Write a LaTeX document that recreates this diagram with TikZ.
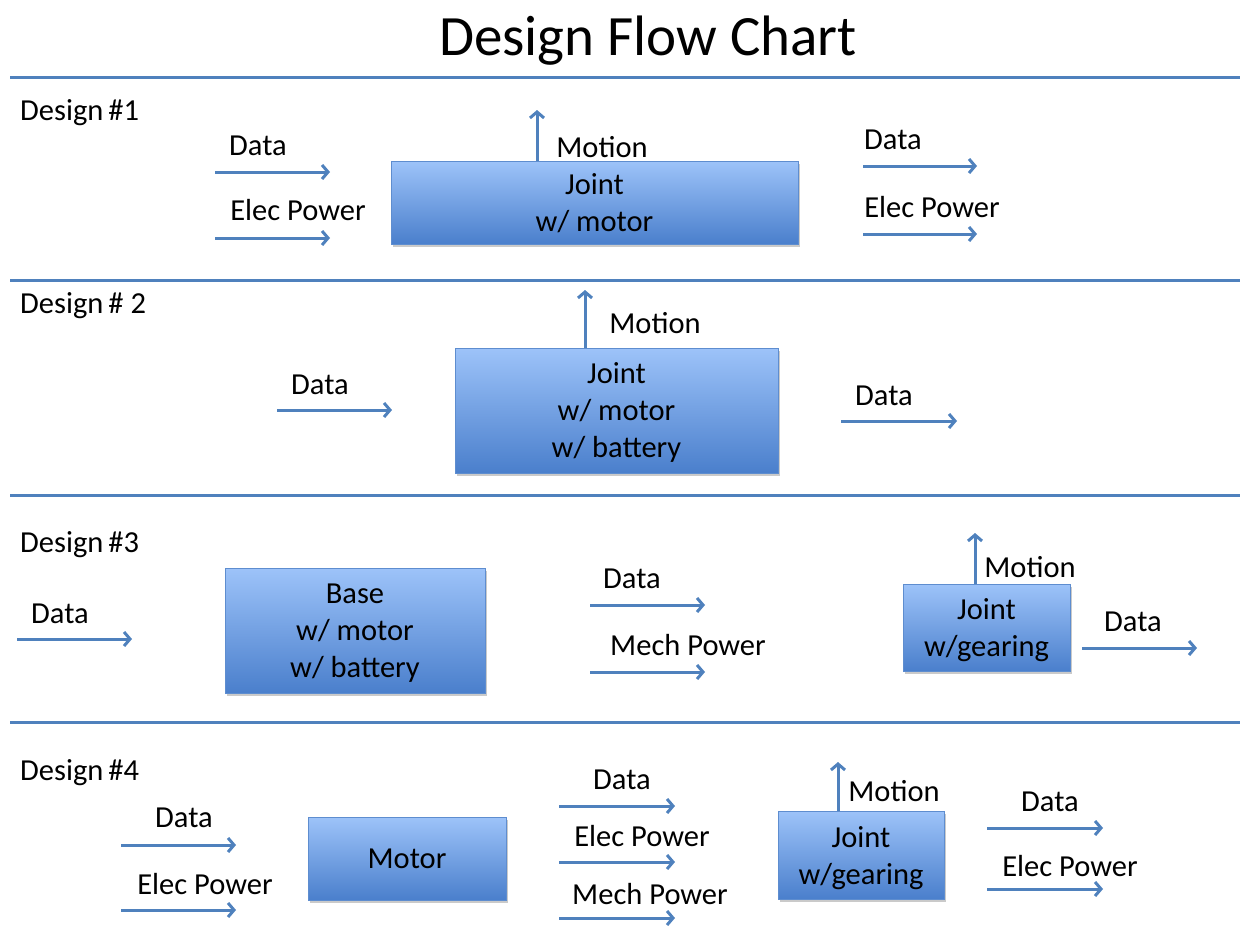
\documentclass[tikz,border=0pt]{standalone}
\usepackage{fontspec}
\setmainfont{Carlito}
\usetikzlibrary{arrows.meta,shadows}
\definecolor{lineblue}{HTML}{4F81BD}
\definecolor{boxtop}{HTML}{9DC3F9}
\definecolor{boxbottom}{HTML}{4A7FCC}
\definecolor{boxedge}{HTML}{5E8DCF}

\newcommand{\hflow}[6]{% name, x start, x end, y, label, label position
  \coordinate (#1-s) at (#2,#4);
  \coordinate (#1-e) at (#3,#4);
  \draw[flow] (#1-s) -- (#1-e);
  \node[lbl] (#1-l) at #6 {#5};
}

\begin{document}
\begin{tikzpicture}[x=1pt,y=-1pt,
  flow/.style={draw=lineblue,line width=3pt,-{Straight Barb[length=6pt,width=14pt]}},
  sep/.style={draw=lineblue,line width=3pt},
  lbl/.style={anchor=base,inner sep=0pt,font=\fontsize{30.5}{34}\selectfont},
  hdr/.style={anchor=base west,inner sep=0pt,font=\fontsize{30.5}{34}\selectfont},
  block/.style={draw=boxedge,line width=0.8pt,top color=boxtop,bottom color=boxbottom,
    align=center,inner sep=0pt,text depth=0pt,font=\fontsize{30.5}{37}\selectfont,
    drop shadow={shadow xshift=2pt,shadow yshift=-3pt,opacity=0.35,fill=black!60}}]
\useasboundingbox (0,0) rectangle (1243,929);

% title
\node[anchor=base,inner sep=0pt,font=\fontsize{57}{64}\selectfont] (title) at (648,55) {Design Flow Chart};

% separators between the designs
\foreach \yy/\nm in {77/s0,280/s1,495/s2,722/s3}{
  \coordinate (\nm-a) at (10,\yy);
  \coordinate (\nm-b) at (1240,\yy);
  \draw[sep] (\nm-a) -- (\nm-b);
}

% ---------------- Design 1
\node[hdr] (h1) at (20,120) {Design\,\#1};
\node[block,minimum width=407pt,minimum height=83pt] (b1) at (594.5,202.5) {Joint\\w/ motor};
\hflow{d1a}{215}{330}{172}{Data}{(258,155)}
\hflow{d1b}{215}{330}{238}{Elec Power}{(298,220)}
\coordinate (m1) at (537,110);
\draw[flow] (b1.north -| m1) -- (m1);
\node[lbl] (m1-l) at (602,157) {Motion};
\hflow{d1c}{863}{977}{166}{Data}{(893,149)}
\hflow{d1d}{863}{977}{234}{Elec Power}{(932,217)}

% ---------------- Design 2
\node[hdr] (h2) at (20,313) {Design\,\# 2};
\node[block,minimum width=323pt,minimum height=125pt] (b2) at (616.5,410.5) {Joint\\w/ motor\\w/ battery};
\coordinate (m2) at (585,290);
\draw[flow] (b2.north -| m2) -- (m2);
\node[lbl] (m2-l) at (655,333) {Motion};
\hflow{d2a}{277}{392}{410}{Data}{(320,394)}
\hflow{d2b}{841}{957}{421}{Data}{(884,405)}

% ---------------- Design 3
\node[hdr] (h3) at (20,552) {Design\,\#3};
\hflow{d3a}{17}{132}{639}{Data}{(60,623)}
\node[block,minimum width=260pt,minimum height=125pt] (b3) at (355,630.5) {Base\\w/ motor\\w/ battery};
\hflow{d3b}{590}{705}{605}{Data}{(632,588)}
\hflow{d3c}{590}{705}{672}{Mech Power}{(688,655)}
\node[block,minimum width=167pt,minimum height=87pt] (b4) at (986.5,627.5) {Joint\\w/gearing};
\coordinate (m3) at (975,533);
\draw[flow] (b4.north -| m3) -- (m3);
\node[lbl] (m3-l) at (1030,577) {Motion};
\hflow{d3d}{1082}{1197}{648}{Data}{(1133,631)}

% ---------------- Design 4
\node[hdr] (h4) at (20,780) {Design\,\#4};
\hflow{d4a}{121}{236}{845}{Data}{(184,827)}
\hflow{d4b}{121}{236}{910}{Elec Power}{(205,894)}
\node[block,minimum width=198pt,minimum height=83pt] (b5) at (407,858.5) {Motor};
\hflow{d4c}{559}{675}{806}{Data}{(622,789)}
\hflow{d4d}{559}{675}{862}{Elec Power}{(642,846)}
\hflow{d4e}{559}{675}{918}{Mech Power}{(650,904)}
\node[block,minimum width=166pt,minimum height=88pt] (b6) at (861,855) {Joint\\w/gearing};
\coordinate (m4) at (838,762);
\draw[flow] (b6.north -| m4) -- (m4);
\node[lbl] (m4-l) at (894,801) {Motion};
\hflow{d4f}{987}{1103}{828}{Data}{(1050,811)}
\hflow{d4g}{987}{1103}{889}{Elec Power}{(1070,876)}
\end{tikzpicture}
\end{document}
